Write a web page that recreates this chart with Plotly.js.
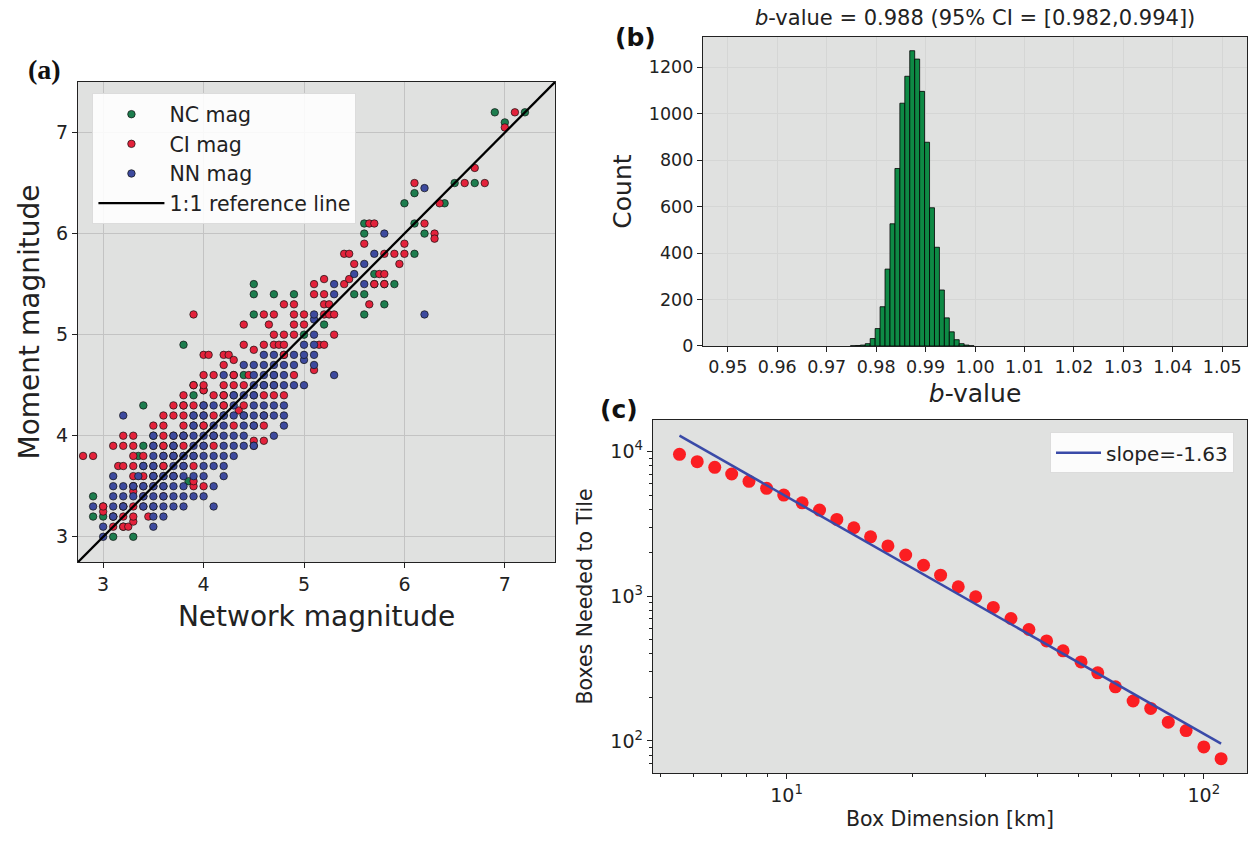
<!DOCTYPE html>
<html>
<head>
<meta charset="utf-8">
<script src="https://cdn.plot.ly/plotly-3.0.1.min.js"></script>
<style>html,body{margin:0;padding:0;background:#fff;}#chart{width:1249px;height:841px;}</style>
</head>
<body>
<div id="chart"></div>
<script>
// ---------- Panel (a): magnitude comparison ----------
const ncMag = [[2.9,3.4],[2.9,3.2],[3.0,3.2],[3.0,3.3],[3.1,3.2],[3.1,3.0],[3.2,3.1],[3.3,3.0],[3.2,3.3],[3.3,3.5],[3.5,3.3],[3.4,3.7],[3.35,3.8],[3.4,3.9],[3.5,4.0],[3.4,4.3],[3.6,3.5],[3.6,3.7],[3.7,3.6],[3.5,3.6],[3.7,3.9],[3.8,4.0],[3.8,4.3],[3.9,4.2],[3.9,4.4],[3.9,4.5],[3.8,4.9],[3.9,3.8],[4.0,4.1],[4.1,4.0],[4.2,4.2],[4.2,4.3],[4.4,4.2],[4.3,4.4],[4.4,4.6],[4.5,4.4],[4.6,4.5],[4.7,4.6],[4.8,4.8],[4.5,5.2],[4.5,5.4],[4.5,5.5],[4.7,5.4],[4.9,5.4],[5.0,5.0],[5.2,5.1],[5.5,5.4],[5.6,5.4],[5.6,5.2],[5.8,5.3],[5.7,5.5],[5.8,5.5],[5.9,5.5],[5.7,5.6],[5.6,6.0],[5.6,6.1],[6.0,6.3],[6.1,6.4],[6.1,5.8],[6.2,6.0],[6.1,6.1],[6.4,6.3],[6.5,6.5],[6.7,6.5],[6.9,7.2],[7.0,7.1],[7.2,7.2],[3.6,3.9],[3.7,3.8],[4.3,4.6],[4.2,4.4],[3.85,3.55],[4.0,4.45]];
const ciMag = [[2.8,3.8],[2.9,3.8],[3.0,3.25],[3.0,3.3],[3.1,3.1],[3.1,3.2],[3.2,3.1],[3.25,3.1],[3.3,3.15],[3.2,3.2],[3.3,3.2],[3.45,3.2],[3.2,3.3],[3.3,3.3],[3.4,3.3],[3.3,3.45],[3.4,3.4],[3.6,3.4],[3.3,3.5],[3.4,3.5],[3.5,3.5],[3.9,3.5],[4.0,3.5],[3.3,3.6],[3.4,3.6],[3.5,3.6],[3.6,3.6],[3.7,3.6],[3.15,3.7],[3.2,3.7],[3.3,3.7],[3.5,3.7],[3.6,3.7],[3.8,3.7],[3.3,3.8],[3.4,3.8],[3.6,3.8],[3.7,3.8],[3.8,3.8],[3.1,3.9],[3.2,3.9],[3.3,3.9],[3.5,3.9],[3.6,3.9],[3.7,3.9],[3.8,3.9],[4.0,3.9],[3.2,4.0],[3.3,4.0],[3.6,4.0],[3.7,4.0],[3.8,4.0],[4.1,4.0],[3.5,4.1],[3.6,4.1],[3.8,4.1],[3.9,4.1],[4.0,4.1],[3.6,4.2],[3.7,4.2],[3.8,4.2],[4.0,4.2],[4.1,4.2],[3.7,4.3],[3.8,4.3],[3.9,4.3],[4.0,4.3],[3.8,4.4],[4.0,4.45],[4.1,4.4],[4.2,4.4],[4.6,4.4],[4.7,4.4],[4.8,4.4],[3.9,4.5],[4.0,4.5],[4.2,4.5],[4.7,4.5],[4.0,4.6],[4.1,4.6],[4.3,4.6],[4.45,4.6],[4.9,4.6],[4.2,4.7],[4.0,4.8],[4.05,4.8],[4.2,4.8],[4.25,4.8],[4.3,4.75],[4.5,4.85],[4.8,4.8],[4.4,4.9],[4.6,4.9],[4.7,4.9],[4.75,4.9],[4.8,4.9],[5.15,4.9],[5.2,4.9],[4.7,5.0],[4.8,5.0],[4.9,5.0],[5.3,5.0],[4.4,5.1],[4.65,5.1],[4.9,5.1],[5.0,5.1],[3.9,5.2],[4.6,5.2],[4.7,5.2],[4.9,5.2],[5.0,5.2],[5.2,5.2],[5.25,5.2],[5.3,5.2],[4.8,5.3],[4.9,5.3],[5.2,5.3],[5.25,5.3],[5.65,5.3],[5.1,5.4],[5.2,5.4],[5.1,5.5],[5.4,5.5],[5.7,5.5],[5.8,5.5],[5.2,5.55],[5.45,5.55],[5.75,5.6],[5.8,5.6],[5.5,5.7],[5.95,5.7],[5.4,5.8],[5.45,5.8],[5.8,5.8],[5.9,5.8],[6.0,5.8],[5.6,5.9],[6.0,5.9],[6.3,6.0],[6.3,5.95],[5.65,6.1],[5.7,6.1],[6.2,6.1],[6.1,6.5],[6.35,6.3],[6.6,6.5],[6.7,6.65],[6.8,6.5],[7.0,7.05],[7.1,7.2],[4.5,3.95],[4.6,3.95],[4.5,4.1],[4.6,4.1],[4.6,4.2],[4.35,4.25],[5.1,4.65],[4.5,3.9],[3.9,3.55],[4.3,4.1],[4.1,3.9],[3.9,3.7],[4.4,4.3],[4.2,4.3],[4.3,4.5],[4.4,4.5]];
const nnMag = [[3.0,3.0],[3.0,3.1],[3.5,3.1],[3.1,3.2],[3.5,3.2],[3.6,3.2],[2.9,3.3],[3.1,3.3],[3.2,3.3],[3.4,3.3],[3.5,3.3],[3.6,3.3],[3.7,3.3],[3.8,3.3],[4.1,3.3],[3.1,3.4],[3.2,3.4],[3.3,3.4],[3.4,3.4],[3.5,3.4],[3.6,3.4],[3.7,3.4],[3.8,3.4],[3.9,3.4],[4.0,3.4],[3.1,3.5],[3.2,3.5],[3.3,3.5],[3.4,3.5],[3.5,3.5],[3.6,3.5],[3.7,3.5],[3.8,3.5],[4.1,3.5],[3.1,3.6],[3.35,3.6],[3.5,3.6],[3.6,3.6],[3.7,3.6],[3.8,3.6],[3.9,3.6],[4.0,3.6],[4.2,3.6],[3.4,3.7],[3.5,3.7],[3.7,3.7],[3.8,3.7],[4.0,3.7],[4.1,3.7],[4.2,3.7],[3.5,3.8],[3.6,3.8],[3.7,3.8],[3.8,3.8],[3.9,3.8],[4.0,3.8],[4.1,3.8],[4.2,3.8],[4.3,3.8],[3.5,3.9],[3.7,3.9],[3.9,3.9],[4.0,3.9],[4.2,3.9],[4.3,3.9],[4.4,3.9],[4.5,3.9],[3.5,4.0],[3.7,4.0],[3.8,4.0],[3.9,4.0],[4.0,4.0],[4.1,4.0],[4.2,4.0],[4.3,4.0],[4.4,4.0],[4.7,4.0],[3.9,4.1],[4.1,4.1],[4.2,4.1],[4.4,4.1],[4.5,4.1],[4.8,4.1],[3.2,4.2],[3.9,4.2],[4.0,4.2],[4.2,4.2],[4.3,4.2],[4.4,4.2],[4.5,4.2],[4.6,4.2],[4.7,4.2],[4.8,4.2],[4.0,4.3],[4.1,4.3],[4.3,4.3],[4.5,4.3],[4.6,4.3],[4.7,4.3],[4.8,4.3],[4.3,4.4],[4.4,4.4],[4.5,4.4],[4.5,4.5],[4.6,4.5],[4.7,4.5],[4.8,4.5],[4.9,4.5],[5.0,4.5],[4.2,4.6],[4.5,4.6],[4.6,4.6],[4.7,4.6],[4.8,4.6],[5.3,4.6],[4.4,4.7],[4.5,4.7],[4.6,4.7],[4.7,4.7],[4.8,4.7],[4.9,4.7],[5.1,4.7],[5.0,4.75],[4.6,4.8],[4.7,4.8],[4.9,4.8],[5.0,4.8],[5.1,4.8],[5.0,4.9],[5.1,4.9],[5.1,5.0],[5.1,5.15],[5.1,5.2],[6.2,5.2],[5.3,5.4],[5.3,5.5],[5.6,5.5],[5.5,5.6],[5.6,5.7],[5.7,5.8],[5.8,6.0],[6.2,6.45]];
const refLine = [2.75, 7.5];

// ---------- Panel (b): bootstrap b-value histogram ----------
const bBinCenters = [0.9753,0.9763,0.9773,0.9783,0.9793,0.9803,0.9813,0.9823,0.9833,0.9843,0.9853,0.9863,0.9873,0.9883,0.9893,0.9903,0.9913,0.9923,0.9933,0.9943,0.9953,0.9963,0.9973,0.9983,0.9993];
const bCounts     = [1,2,4,10,32,75,169,331,526,764,1045,1161,1271,1235,1096,877,595,425,241,121,61,27,10,4,1];
const bBinWidth = 0.001;
const bTicks = [0.95,0.96,0.97,0.98,0.99,1.00,1.01,1.02,1.03,1.04,1.05];

// ---------- Panel (c): box counting ----------
const boxDim   = [5.54,6.11,6.73,7.39,8.13,8.96,9.85,10.9,12.0,13.2,14.5,15.9,17.5,19.3,21.3,23.4,25.8,28.4,31.3,34.5,38.1,42.0,46.0,50.8,55.7,61.4,67.7,74.6,82.2,90.7,100,110];
const boxCount = [9590,8530,7800,7010,6240,5580,5010,4430,3950,3400,2980,2580,2230,1930,1640,1400,1165,993,838,703,590,492,420,352,296,237,189,168,135,118,91,75.5];
const fitX = [5.54, 110];
const fitY = [12900, 96];
const slopeLabel = 'slope=-1.63';

const green = '#1d7d4e', red = '#e3223b', blue = '#3d4a9e';
const bg = '#e0e1e0';
const dotLine = {color:'#111', width:0.7};

const traces = [
  {type:'scatter', mode:'markers', name:'NC mag', x:ncMag.map(p=>p[0]), y:ncMag.map(p=>p[1]),
   marker:{color:green, size:7.5, line:dotLine}, xaxis:'x', yaxis:'y', legend:'legend'},
  {type:'scatter', mode:'markers', name:'CI mag', x:ciMag.map(p=>p[0]), y:ciMag.map(p=>p[1]),
   marker:{color:red, size:7.5, line:dotLine}, xaxis:'x', yaxis:'y', legend:'legend'},
  {type:'scatter', mode:'markers', name:'NN mag', x:nnMag.map(p=>p[0]), y:nnMag.map(p=>p[1]),
   marker:{color:blue, size:7.5, line:dotLine}, xaxis:'x', yaxis:'y', legend:'legend'},
  {type:'scatter', mode:'lines', name:'1:1 reference line', x:refLine, y:refLine,
   line:{color:'#000', width:2.3}, xaxis:'x', yaxis:'y', legend:'legend'},
  {type:'bar', x:bBinCenters, y:bCounts, width:bBinWidth, showlegend:false,
   marker:{color:'#0e8a45', line:{color:'#000', width:0.8}}, xaxis:'x2', yaxis:'y2'},
  {type:'scatter', mode:'markers', x:boxDim, y:boxCount, showlegend:false,
   marker:{color:'#fb1e22', size:13}, xaxis:'x3', yaxis:'y3'},
  {type:'scatter', mode:'lines', name:slopeLabel, x:fitX, y:fitY,
   line:{color:'#3a4aa8', width:2.5}, xaxis:'x3', yaxis:'y3', legend:'legend2'}
];

const axBase = {showline:true, mirror:true, linecolor:'#222', linewidth:1.2, ticks:'outside',
  ticklen:5, tickcolor:'#222', zeroline:false, color:'#222'};

const layout = {
  width:1249, height:841, margin:{l:0,r:0,t:0,b:0},
  paper_bgcolor:'#fff', plot_bgcolor:bg,
  font:{family:'DejaVu Sans', color:'#222'},
  bargap:0,
  xaxis:Object.assign({}, axBase, {domain:[0.0625,0.4444], anchor:'y', range:[2.75,7.5],
    tickvals:[3,4,5,6,7], tickfont:{size:19}, showgrid:true, gridcolor:'#c3c3c3', gridwidth:1,
    title:{text:'Network magnitude', font:{size:28}, standoff:12}}),
  yaxis:Object.assign({}, axBase, {domain:[0.3317,0.9025], anchor:'x', range:[2.75,7.5],
    tickvals:[3,4,5,6,7], tickfont:{size:19}, showgrid:true, gridcolor:'#c3c3c3', gridwidth:1,
    title:{text:'Moment magnitude', font:{size:28}, standoff:8}}),
  xaxis2:Object.assign({}, axBase, {domain:[0.5629,0.9984], anchor:'y2', range:[0.945,1.055],
    tickvals:bTicks, tickformat:'.2f', tickfont:{size:17.5}, showgrid:true, gridcolor:'#d5d6d5',
    title:{text:'<i>b</i>-value', font:{size:25}, standoff:8}}),
  yaxis2:Object.assign({}, axBase, {domain:[0.5886,0.956], anchor:'x2', range:[0,1330],
    dtick:200, tick0:0, tickfont:{size:17.5}, showgrid:true, gridcolor:'#d5d6d5',
    title:{text:'Count', font:{size:25}, standoff:10}}),
  xaxis3:Object.assign({}, axBase, {domain:[0.5228,0.9984], anchor:'y3', type:'log', range:[0.680,2.1035],
    tickvals:[10,100], ticktext:['10<sup>1</sup>','10<sup>2</sup>'], tickfont:{size:19}, showgrid:false,
    minor:{tickvals:[5,6,7,8,9,20,30,40,50,60,70,80,90], ticks:'outside', ticklen:3, tickcolor:'#222', showgrid:false},
    title:{text:'Box Dimension [km]', font:{size:20.5}, standoff:6}}),
  yaxis3:Object.assign({}, axBase, {domain:[0.0809,0.5006], anchor:'x3', type:'log', range:[1.779,4.219],
    tickvals:[100,1000,10000], ticktext:['10<sup>2</sup>','10<sup>3</sup>','10<sup>4</sup>'], tickfont:{size:19}, showgrid:false,
    minor:{tickvals:[70,80,90,200,300,400,500,600,700,800,900,2000,3000,4000,5000,6000,7000,8000,9000], ticks:'outside', ticklen:3, tickcolor:'#222', showgrid:false},
    title:{text:'Boxes Needed to Tile', font:{size:20.5}, standoff:12}}),
  legend:{x:0.074, y:0.889, xanchor:'left', yanchor:'top', bgcolor:'rgba(255,255,255,0.88)',
    bordercolor:'#dcdcdc', borderwidth:1, font:{size:20.5}, itemwidth:66, tracegroupgap:0},
  legend2:{x:0.988, y:0.486, xanchor:'right', yanchor:'top', bgcolor:'rgba(255,255,255,0.88)',
    bordercolor:'#dcdcdc', borderwidth:1, font:{size:20}, itemwidth:45},
  annotations:[
    {xref:'paper', yref:'paper', x:0.021, y:0.917, xanchor:'left', yanchor:'middle', showarrow:false,
     text:'<b>(a)</b>', font:{family:'Liberation Serif', size:28, color:'#111'}},
    {xref:'paper', yref:'paper', x:0.491, y:0.956, xanchor:'left', yanchor:'middle', showarrow:false,
     text:'<b>(b)</b>', font:{family:'DejaVu Sans', size:25, color:'#111'}},
    {xref:'paper', yref:'paper', x:0.479, y:0.513, xanchor:'left', yanchor:'middle', showarrow:false,
     text:'<b>(c)</b>', font:{family:'DejaVu Sans', size:25, color:'#111'}},
    {xref:'paper', yref:'paper', x:0.7806, y:0.979, xanchor:'center', yanchor:'middle', showarrow:false,
     text:'<i>b</i>-value = 0.988 (95% CI = [0.982,0.994])', font:{family:'DejaVu Sans', size:21, color:'#222'}}
  ]
};

Plotly.newPlot('chart', traces, layout, {displayModeBar:false, staticPlot:true});
</script>
</body>
</html>
